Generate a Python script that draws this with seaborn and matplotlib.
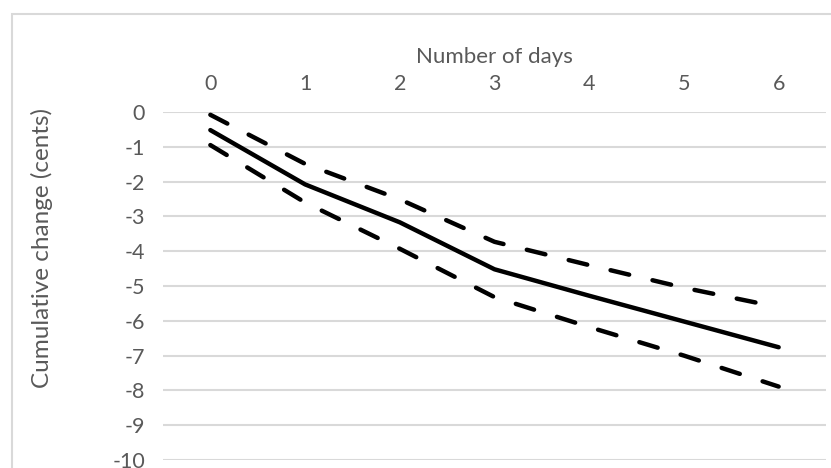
import matplotlib

matplotlib.use("Agg")

import matplotlib.pyplot as plt
import pandas as pd
import seaborn as sns
from matplotlib.patches import Rectangle

days = [0, 1, 2, 3, 4, 5, 6]
estimate = [-0.52, -2.08, -3.17, -4.52, -5.28, -6.02, -6.76]
upper_band = [-0.08, -1.49, -2.51, -3.73, -4.40, -5.05, -5.61]
lower_band = [-0.95, -2.60, -3.93, -5.32, -6.18, -7.00, -7.89]
y_ticks = list(range(0, -11, -1))

TEXT = "#595959"
GRID = "#d9d9d9"

sns.set_theme(style="white")
plt.rcParams["font.family"] = ["Lato", "DejaVu Sans"]
plt.rcParams["axes.unicode_minus"] = False

df = pd.DataFrame({"day": days, "est": estimate, "hi": upper_band, "lo": lower_band})

fig = plt.figure(figsize=(8.31, 4.68), dpi=100)
ax = fig.add_axes([163 / 831, 8 / 468, 663 / 831, 348 / 468])

dash = (4.3, 5.4)
for col in ["hi", "lo"]:
    sns.lineplot(data=df, x="day", y=col, ax=ax, color="black", lw=3.2,
                 dashes=False, legend=False)
    ax.lines[-1].set_dashes(dash)
    ax.lines[-1].set_dash_capstyle("round")
sns.lineplot(data=df, x="day", y="est", ax=ax, color="black", lw=3.2, legend=False)
ax.lines[-1].set_solid_capstyle("round")

ax.set_xlim(-0.5, 6.5)
ax.set_ylim(-10, 0)
ax.set_xticks(days)
ax.set_yticks(y_ticks)
ax.xaxis.tick_top()
ax.tick_params(axis="both", length=0, labelsize=15.5, colors=TEXT)
ax.tick_params(axis="x", pad=13)
ax.tick_params(axis="y", pad=13)
ax.yaxis.grid(True, color=GRID, lw=1.5)
ax.set_axisbelow(True)
for s in ax.spines.values():
    s.set_visible(False)
ax.set_xlabel("")
ax.set_ylabel("")

fig.text(494 / 831, 1 - 57 / 468, "Number of days", ha="center", va="center",
         fontsize=16, color=TEXT)
fig.text(42 / 831, 1 - 248 / 468, "Cumulative change (cents)", ha="center",
         va="center", rotation=90, fontsize=17.5, color=TEXT)

fig.patches.append(Rectangle((12 / 831, -0.05), 1.0, 0.05 + 1 - 14 / 468,
                             transform=fig.transFigure, fill=False,
                             edgecolor=GRID, lw=1.5))

fig.savefig("out.png", dpi=100)
